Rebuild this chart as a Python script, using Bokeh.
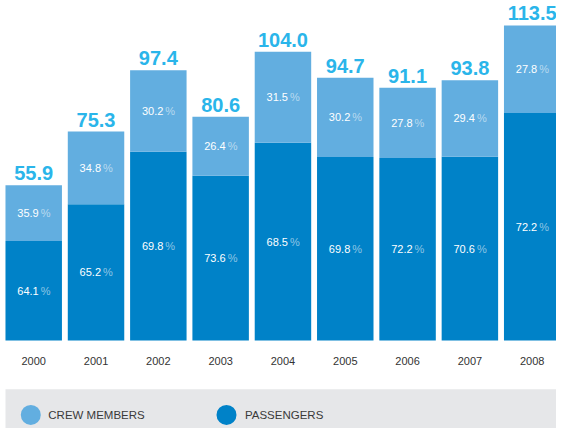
from bokeh.plotting import figure
from bokeh.models import ColumnDataSource, Range1d
from bokeh.core.properties import value
from bokeh.embed import file_html
from bokeh.resources import INLINE

years = ["2000", "2001", "2002", "2003", "2004", "2005", "2006", "2007", "2008"]
totals = [55.9, 75.3, 97.4, 80.6, 104.0, 94.7, 91.1, 93.8, 113.5]
crew_pct = [35.9, 34.8, 30.2, 26.4, 31.5, 30.2, 27.8, 29.4, 27.8]
passenger_pct = [64.1, 65.2, 69.8, 73.6, 68.5, 69.8, 72.2, 70.6, 72.2]
legend_labels = ["CREW MEMBERS", "PASSENGERS"]

CREW = "#62aee0"
PASS = "#0082c8"
TOTAL_C = "#2ab5ea"
FONT = value("Liberation Sans")

xs = list(range(len(years)))
pass_val = [t * p / 100 for t, p in zip(totals, passenger_pct)]
src = ColumnDataSource(dict(
    x=xs,
    year=years,
    total=totals,
    passv=pass_val,
    crew_mid=[(pv + t) / 2 for pv, t in zip(pass_val, totals)],
    pass_mid=[pv / 2 for pv in pass_val],
    total_lbl=[f"{t:.1f}" for t in totals],
    crew_lbl=[f"{c:.1f}" for c in crew_pct],
    pass_lbl=[f"{c:.1f}" for c in passenger_pct],
    pct=["%"] * len(years),
))

x0, x1 = -0.533, 8.39
y0, y1 = -31.7, 122.5

p = figure(width=556, height=428, x_range=Range1d(x0, x1), y_range=Range1d(y0, y1),
           output_backend="svg", toolbar_location=None, min_border=0)
p.axis.visible = False
p.grid.visible = False
p.outline_line_color = None
p.background_fill_color = "white"
p.border_fill_color = "white"

# legend band
p.quad(left=[-0.453], right=[x1], bottom=[y0], top=[-17.6], fill_color="#e6e7e9", line_color=None)

bw = 58 / 64
p.vbar(x="x", width=bw, bottom=0, top="passv", source=src, fill_color=PASS, line_color=None)
p.vbar(x="x", width=bw, bottom="passv", top="total", source=src, fill_color=CREW, line_color=None)

# totals (offset above bar top in screen px)
p.text(x="x", y="total", text="total_lbl", source=src, text_align="center",
       text_baseline="bottom", y_offset=-5,
       text_font=value("Liberation Sans"), text_font_style="bold",
       text_font_size="20px", text_color=TOTAL_C)

# percentages
for ycol, lcol in (("crew_mid", "crew_lbl"), ("pass_mid", "pass_lbl")):
    p.text(x="x", y=ycol, text=lcol, source=src, text_align="right", text_baseline="middle",
           text_font=FONT, text_font_size="11px", text_color="white", x_offset=5)
    p.text(x="x", y=ycol, text="pct", source=src, text_align="left", text_baseline="middle",
           text_font=FONT, text_font_size="11px", text_color="white", text_alpha=0.55, x_offset=7)

# year labels
p.text(x="x", y=0, text="year", source=src, text_align="center", text_baseline="middle",
       y_offset=20, text_font=FONT, text_font_size="11px", text_color="#333333")

# legend
lx = [-0.047, 3.094]
ly = [-26.8, -26.8]
p.scatter(x=lx, y=ly, size=20, marker="circle", fill_color=[CREW, PASS], line_color=None)
p.text(x=[0.234, 3.39], y=ly, text=legend_labels, text_align="left", text_baseline="middle",
       text_font=FONT, text_font_size="11.5px", text_color="#3a3a3a")

open("out.html", "w").write(file_html(p, INLINE))
